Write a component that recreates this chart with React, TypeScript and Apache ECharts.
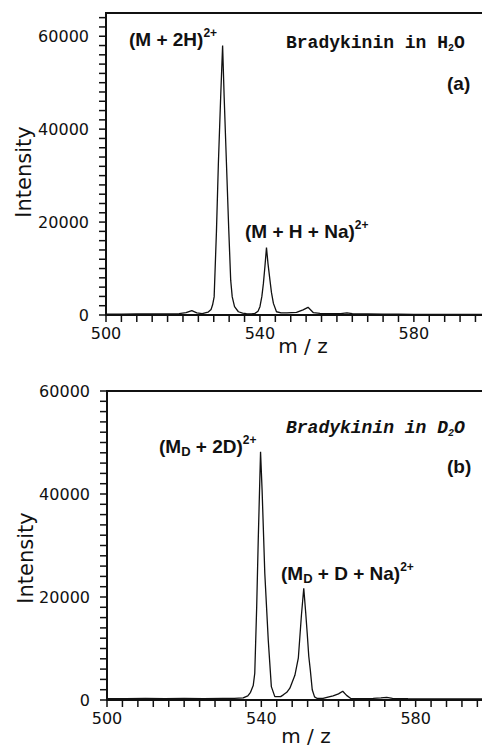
import React, { useEffect, useRef } from "react";
import * as echarts from "echarts";

// Panel (a): Bradykinin in H2O
const mzH2O = [500, 504, 508, 512, 516, 519, 520.8, 522.3, 523.6, 525, 526.5, 527.3, 527.7, 528.1, 528.7, 529.2, 529.8, 530.3, 530.7, 531.3, 531.9, 532.4, 532.8, 533.4, 534.4, 535.5, 536.5, 537.8, 538.7, 539.5, 540.0, 540.5, 540.9, 541.3, 541.7, 542.1, 542.6, 543.0, 543.5, 544.3, 545.5, 547, 549.5, 551.2, 552.5, 553.9, 555.6, 558, 561, 562.6, 564, 568, 572, 576, 580, 585, 590, 597.7];
const intH2O = [200, 200, 250, 250, 250, 300, 500, 950, 450, 300, 600, 1200, 2200, 3900, 18000, 32600, 47000, 58000, 47000, 32600, 18300, 7500, 3900, 1800, 700, 400, 300, 250, 350, 800, 1800, 4000, 6800, 10500, 14500, 11000, 7500, 4800, 2500, 700, 450, 450, 550, 1100, 1650, 500, 350, 300, 300, 450, 300, 250, 200, 200, 150, 150, 150, 150];

// Panel (b): Bradykinin in D2O
const mzD2O = [500, 505, 510, 515, 520, 525, 530, 533, 535.3, 536.5, 537.2, 537.9, 538.3, 538.8, 539.2, 539.8, 540.2, 540.9, 541.8, 542.6, 543.5, 545, 545.7, 546.6, 547.4, 548.7, 549.6, 550.4, 551.0, 551.5, 551.9, 552.3, 552.7, 553.2, 553.8, 554.5, 556, 557, 558.6, 560, 561.1, 562.1, 563.2, 566, 569, 571, 572.5, 574, 578, 585, 597.2];
const intD2O = [250, 250, 300, 250, 300, 250, 300, 300, 400, 800, 1500, 2800, 5200, 18100, 31000, 48200, 40800, 24600, 11600, 2600, 650, 650, 1000, 1500, 2300, 4800, 8200, 16500, 21700, 17000, 12900, 8500, 5800, 2000, 600, 300, 300, 500, 800, 1200, 1700, 900, 300, 250, 300, 400, 500, 300, 250, 200, 200];

// Axis ranges, tick labels and tick positions
const X_MIN = 500;
const X_MAX_A = 597.7;
const X_MAX_B = 597.2;
const Y_MAX_A = 65000;
const Y_MAX_B = 60000;
const xTickLabels = [500, 540, 580];
const yTickLabels = [0, 20000, 40000, 60000];
const steps = (from: number, to: number, step: number) => {
  const out: number[] = [];
  for (let v = from; v <= to; v += step) out.push(v);
  return out;
};
const xTicks = steps(500, 596, 4);
const yTicksA = steps(0, 64000, 2000);
const yTicksB = steps(0, 60000, 2000);

const INK = "#111";
const SANS = "DejaVu Sans";
const ANN = "Liberation Sans";
const MONO = "Liberation Mono";
const TICK_LEN = 7;

function xAxisFor(gridIndex: number, max: number) {
  return {
    type: "value",
    gridIndex,
    position: "bottom",
    min: X_MIN,
    max,
    axisLine: { show: true, onZero: false, lineStyle: { color: INK, width: 2 } },
    axisTick: { show: false },
    splitLine: { show: false },
    axisLabel: {
      show: true,
      margin: 10,
      customValues: xTickLabels,
      color: INK,
      fontFamily: SANS,
      fontSize: 16,
      formatter: (v: number) => String(v),
    },
  };
}

function yAxisFor(gridIndex: number, max: number) {
  return {
    type: "value",
    gridIndex,
    position: "left",
    min: 0,
    max,
    axisLine: { show: true, onZero: false, lineStyle: { color: INK, width: 2 } },
    axisTick: { show: false },
    splitLine: { show: false },
    axisLabel: {
      show: true,
      margin: 17,
      customValues: yTickLabels,
      color: INK,
      fontFamily: SANS,
      fontSize: 16,
      formatter: (v: number) => String(v),
    },
  };
}

function pairs(xs: number[], ys: number[]) {
  return xs.map((x, i) => [x, ys[i]]);
}

const lineStyleTick = { stroke: INK, lineWidth: 1.5 };

// Tick marks drawn through the axes' own scales (api.coord)
function xTickSeries(idx: number) {
  return {
    type: "custom",
    xAxisIndex: idx,
    yAxisIndex: idx,
    clip: false,
    silent: true,
    z: 5,
    data: xTicks.map((v) => [v, 0]),
    renderItem: (_p: any, api: any) => {
      const p = api.coord([api.value(0), api.value(1)]);
      return { type: "line", shape: { x1: p[0], y1: p[1], x2: p[0], y2: p[1] + TICK_LEN }, style: lineStyleTick };
    },
  };
}

function yTickSeries(idx: number, ticks: number[]) {
  return {
    type: "custom",
    xAxisIndex: idx,
    yAxisIndex: idx,
    clip: false,
    silent: true,
    z: 5,
    data: ticks.map((v) => [X_MIN, v]),
    renderItem: (_p: any, api: any) => {
      const p = api.coord([api.value(0), api.value(1)]);
      return { type: "line", shape: { x1: p[0] - TICK_LEN, y1: p[1], x2: p[0], y2: p[1] }, style: lineStyleTick };
    },
  };
}

function frameTopSeries(idx: number, xMax: number, yMax: number) {
  return {
    type: "custom",
    xAxisIndex: idx,
    yAxisIndex: idx,
    clip: false,
    silent: true,
    z: 5,
    data: [[X_MIN, yMax, xMax]],
    renderItem: (_p: any, api: any) => {
      const a = api.coord([api.value(0), api.value(1)]);
      const b = api.coord([api.value(2), api.value(1)]);
      return { type: "line", shape: { x1: a[0] - 1, y1: a[1], x2: b[0] + 2, y2: b[1] }, style: { stroke: INK, lineWidth: 2 } };
    },
  };
}

const annRich = {
  a: { fontFamily: ANN, fontWeight: "bold", fontSize: 19, lineHeight: 24, fill: INK, verticalAlign: "middle" },
  s: { fontFamily: ANN, fontWeight: "bold", fontSize: 12, lineHeight: 15, fill: INK, verticalAlign: "top" },
  d: { fontFamily: ANN, fontWeight: "bold", fontSize: 13, lineHeight: 16, fill: INK, verticalAlign: "bottom" },
};

const monoRich = (italic: boolean) => ({
  b: { fontFamily: MONO, fontWeight: "bold", fontStyle: italic ? "italic" : "normal", fontSize: 18, lineHeight: 20, fill: INK, verticalAlign: "middle" },
  u: { fontFamily: MONO, fontWeight: "bold", fontStyle: italic ? "italic" : "normal", fontSize: 10, lineHeight: 14, fill: INK, verticalAlign: "bottom" },
});

function txt(x: number, y: number, text: string, rich: any) {
  return {
    type: "text",
    x,
    y,
    silent: true,
    style: { text, rich, align: "left", verticalAlign: "middle", fill: INK },
  };
}

function plain(x: number, y: number, text: string, size: number, rotation = 0) {
  return {
    type: "text",
    x,
    y,
    rotation,
    silent: true,
    style: { text, fontFamily: SANS, fontSize: size, fill: INK, align: "center", verticalAlign: "middle" },
  };
}

export default function App() {
  const ref = useRef<HTMLDivElement>(null);
  useEffect(() => {
    if (!ref.current) return;
    const chart = echarts.init(ref.current, undefined, { renderer: "svg" });
    chart.setOption({
      animation: false,
      grid: [
        { left: 106, top: 13, width: 376, height: 302 },
        { left: 107, top: 391, width: 375, height: 309 },
      ],
      xAxis: [xAxisFor(0, X_MAX_A), xAxisFor(1, X_MAX_B)],
      yAxis: [yAxisFor(0, Y_MAX_A), yAxisFor(1, Y_MAX_B)],
      series: [
        {
          type: "line",
          xAxisIndex: 0,
          yAxisIndex: 0,
          data: pairs(mzH2O, intH2O),
          showSymbol: false,
          lineStyle: { color: INK, width: 1.3 },
        },
        {
          type: "line",
          xAxisIndex: 1,
          yAxisIndex: 1,
          data: pairs(mzD2O, intD2O),
          showSymbol: false,
          lineStyle: { color: INK, width: 1.3 },
        },
        xTickSeries(0),
        xTickSeries(1),
        yTickSeries(0, yTicksA),
        yTickSeries(1, yTicksB),
        frameTopSeries(0, X_MAX_A, Y_MAX_A),
        frameTopSeries(1, X_MAX_B, Y_MAX_B),
      ],
      graphic: [
        plain(24, 172, "Intensity", 21, Math.PI / 2),
        plain(26, 558, "Intensity", 21, Math.PI / 2),
        plain(303, 346, "m / z", 20),
        plain(306, 736, "m / z", 20),
        txt(129, 39, "{a|(M + 2H)}{s|2+}", annRich),
        txt(245, 231, "{a|(M + H + Na)}{s|2+}", annRich),
        txt(447, 83, "{a|(a)}", annRich),
        txt(286, 43, "{b|Bradykinin in H}{u|2}{b|O}", monoRich(false)),
        txt(159, 446, "{a|(M}{d|D}{a| + 2D)}{s|2+}", annRich),
        txt(281, 573, "{a|(M}{d|D}{a| + D + Na)}{s|2+}", annRich),
        txt(447, 466, "{a|(b)}", annRich),
        txt(286, 428, "{b|Bradykinin in D}{u|2}{b|O}", monoRich(true)),
      ],
    });
    return () => chart.dispose();
  }, []);
  return (
    <div
      ref={ref}
      style={{ position: "fixed", left: 0, top: 0, width: 482, height: 750, background: "#fff" }}
    />
  );
}
